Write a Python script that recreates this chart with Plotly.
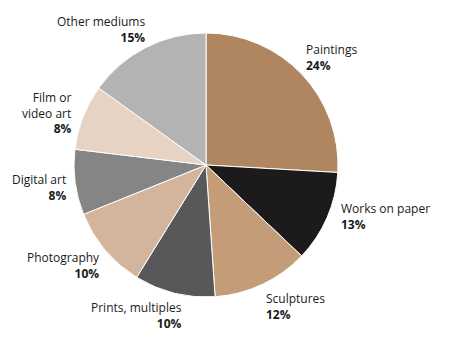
import math
import plotly.graph_objects as go

categories = ["Paintings", "Works on paper", "Sculptures", "Prints, multiples",
              "Photography", "Digital art", "Film or<br>video art", "Other mediums"]
shares = [25.9, 11.2, 11.8, 9.9, 10.1, 8.0, 8.0, 15.1]
pct_labels = ["24%", "13%", "12%", "10%", "10%", "8%", "8%", "15%"]
colors = ["#b08660", "#1c1a1b", "#c49c78", "#58585a",
          "#d3b49c", "#858585", "#e6d3c3", "#b3b3b3"]

# per-label nudges in pixels (dx right, dy down)
nudge_x = [-2, 6, -1, 11, 1, -1, -4, 4]
nudge_y = [6, -3, -2, -2, -7, 4, -2, 6]

W, H = 452, 349
cx, cy, r = 206, 165, 132

fig = go.Figure(go.Pie(
    values=shares, labels=categories, sort=False, direction="clockwise",
    rotation=0, textinfo="none", hoverinfo="label+percent",
    marker=dict(colors=colors, line=dict(color="white", width=1)),
    domain=dict(x=[(cx - r) / W, (cx + r) / W],
                y=[(H - cy - r) / H, (H - cy + r) / H]),
    showlegend=False,
))

total = sum(shares)
cum = 0
annotations = []
for name, v, p, dx, dy in zip(categories, shares, pct_labels, nudge_x, nudge_y):
    mid = (cum + v / 2) / total * 2 * math.pi
    cum += v
    s, c = math.sin(mid), math.cos(mid)
    px = cx + r * 1.045 * s
    py = cy - r * 1.045 * c
    xanchor = "left" if s > 0 else "right"
    yanchor = "bottom" if c > 0.5 else ("top" if c < -0.5 else "middle")
    annotations.append(dict(
        x=px / W, y=1 - py / H, xref="paper", yref="paper",
        xshift=dx, yshift=-dy,
        text=f"{name}<br><b>{p}</b>", showarrow=False,
        xanchor=xanchor, yanchor=yanchor,
        align="left" if s > 0 else "right",
        font=dict(family="Open Sans", size=12, color="#1a1a1a"),
    ))

fig.update_layout(
    width=W, height=H, margin=dict(l=0, r=0, t=0, b=0),
    paper_bgcolor="white", plot_bgcolor="white",
    annotations=annotations,
)
fig.write_html("out.html")
